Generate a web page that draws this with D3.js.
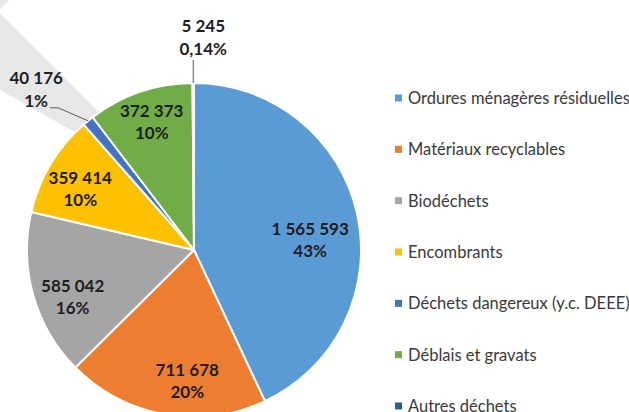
<!DOCTYPE html>
<html>
<head>
<meta charset="utf-8">
<script src="https://cdn.jsdelivr.net/npm/d3@7"></script>
<style>
  html, body { margin: 0; padding: 0; background: #fff; overflow: hidden; }
  svg { display: block; }
</style>
</head>
<body>
<div id="chart"></div>
<script>
// data
const categories = [
  'Ordures ménagères résiduelles',
  'Matériaux recyclables',
  'Biodéchets',
  'Encombrants',
  'Déchets dangereux (y.c. DEEE)',
  'Déblais et gravats',
  'Autres déchets'
];
const values = [1565593, 711678, 585042, 359414, 40176, 372373, 5245];
const colors = ['#5b9bd5', '#ed7d31', '#a5a5a5', '#ffc000', '#4472c4', '#70ad47', '#255e91'];

// which labels sit outside with a leader line
const outside = { 4: { dx: -30, dy: -13, tail: -8 }, 6: { dx: 0, dy: -23, tail: 0 } };
// small nudges of the inside labels (excel best fit)
const nudge = { 0: [-11, 18], 1: [16, 3], 2: [4, 12], 3: [-2, 6], 5: [0, -5] };

const width = 629, height = 412;
const cx = 194, cy = 250, r = 167;

const fr = d3.formatLocale({ decimal: ',', thousands: '\u00a0', grouping: [3], currency: ['', ''] });
const fmtVal = fr.format(',d');
const total = d3.sum(values);
const fmtPct = (v) => {
  let p = v / total;
  return p < 0.01 ? fr.format('.2%')(p) : fr.format('.0%')(p);
};

const svg = d3.select('#chart').append('svg')
  .attr('width', width)
  .attr('height', height);

// the grey diagonal band behind the pie
svg.append('path')
  .attr('d', 'M0,0L9,0L0,9Z')
  .attr('fill', '#e7e7e7');
svg.append('path')
  .attr('d', 'M0,13L106,119L82,136L0,90Z')
  .attr('fill', '#e7e7e7');

const pie = d3.pie().sort(null).value(d => d)(values);
const arc = d3.arc().innerRadius(0).outerRadius(r);
const labelArc = d3.arc().innerRadius(r * 0.78).outerRadius(r * 0.78);
const edgeArc = d3.arc().innerRadius(r).outerRadius(r);

const g = svg.append('g').attr('transform', `translate(${cx},${cy})`);

g.selectAll('path.slice')
  .data(pie)
  .join('path')
  .attr('class', 'slice')
  .attr('d', arc)
  .attr('fill', (d, i) => colors[i])
  .attr('stroke', '#fff')
  .attr('stroke-width', 2)
  .attr('stroke-linejoin', 'round');

const font = 'Lato, "Open Sans", sans-serif';

pie.forEach((d, i) => {
  let lines = [fmtVal(values[i]), fmtPct(values[i])];
  let tx, ty;
  if (outside[i]) {
    let o = outside[i];
    let p = edgeArc.centroid(d);
    let elbow = [p[0] + o.dx, p[1] + o.dy];
    let end = [elbow[0] + o.tail, elbow[1]];
    g.append('path')
      .attr('d', d3.line()([p, elbow, end]))
      .attr('fill', 'none')
      .attr('stroke', '#595959')
      .attr('stroke-width', 1);
    if (o.tail < 0) { tx = end[0] - 14; ty = end[1] - 1; }
    else { tx = end[0] + 10; ty = end[1] - 5; }
    // ty is the baseline of the last line
    let t = g.append('text')
      .attr('text-anchor', 'middle')
      .attr('font-family', font)
      .attr('font-weight', 700)
      .attr('font-size', 17)
      .attr('fill', '#1e1e1e');
    t.append('tspan').attr('x', tx).attr('y', ty - 23).text(lines[0]);
    t.append('tspan').attr('x', tx).attr('y', ty).text(lines[1]);
  } else {
    let c = labelArc.centroid(d);
    let n = nudge[i] || [0, 0];
    tx = c[0] + n[0];
    ty = c[1] + n[1];
    let t = g.append('text')
      .attr('text-anchor', 'middle')
      .attr('font-family', font)
      .attr('font-weight', 700)
      .attr('font-size', 17)
      .attr('fill', '#1e1e1e');
    t.append('tspan').attr('x', tx).attr('y', ty - 5).text(lines[0]);
    t.append('tspan').attr('x', tx).attr('y', ty + 17).text(lines[1]);
  }
});

// legend
const ly = d3.scalePoint().domain(categories).range([98, 406]);
const legend = svg.append('g');
const items = legend.selectAll('g')
  .data(categories)
  .join('g')
  .attr('transform', d => `translate(395,${ly(d)})`);
items.append('rect')
  .attr('x', 0)
  .attr('y', -3.5)
  .attr('width', 7)
  .attr('height', 7)
  .attr('fill', (d, i) => colors[i]);
items.append('text')
  .attr('x', 13)
  .attr('y', 6)
  .attr('font-family', font)
  .attr('font-size', 16.5)
  .attr('fill', '#3a3a3a')
  .text(d => d);
</script>
</body>
</html>
